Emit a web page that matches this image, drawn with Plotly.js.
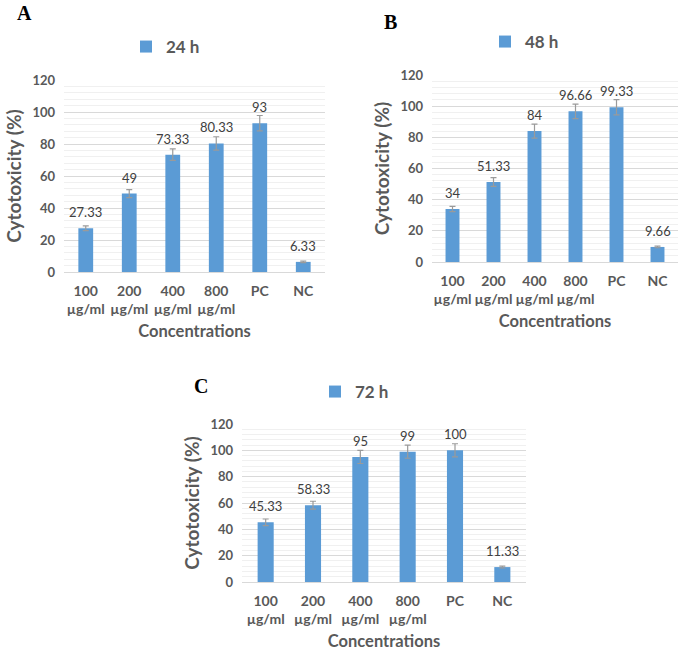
<!DOCTYPE html>
<html>
<head>
<meta charset="utf-8">
<script src="https://cdn.plot.ly/plotly-3.0.1.min.js"></script>
<style>html,body{margin:0;padding:0;background:#fff;}#chart{width:685px;height:656px;}</style>
</head>
<body>
<div id="chart"></div>
<script>
// ---- data ----
const categories = ['100 µg/ml', '200 µg/ml', '400 µg/ml', '800 µg/ml', 'PC', 'NC'];
const tickLabels = ['100<br>µg/ml', '200<br>µg/ml', '400<br>µg/ml', '800<br>µg/ml', 'PC', 'NC'];
const seriesNames = ['24 h', '48 h', '72 h'];
const panelLetters = ['A', 'B', 'C'];
const values24 = [27.33, 49, 73.33, 80.33, 93, 6.33];
const errors24 = [1.5, 2.5, 3.6, 4.2, 4.8, 0.5];
const values48 = [34, 51.33, 84, 96.66, 99.33, 9.66];
const errors48 = [1.7, 2.8, 4.5, 4.7, 4.9, 0.5];
const values72 = [45.33, 58.33, 95, 99, 100, 11.33];
const errors72 = [2.5, 3, 5, 5, 5, 0.7];
const yTitle = 'Cytotoxicity (%)';
const xTitle = 'Concentrations';

// ---- layout helpers ----
const W = 685, H = 656;
const px = v => v / W;
const py = v => 1 - v / H;

const barColor = '#5b9bd5';
const textGray = '#595959';
const FONT = 'Lato, "Open Sans", sans-serif';

const panels = [
  {vals: values24, errs: errors24, x0: 64, x1: 325, yTop: 80, yBot: 272,
   legX: 126, legY: 47, letX: 15, letY: 13},
  {vals: values48, errs: errors48, x0: 432, x1: 678, yTop: 75, yBot: 262,
   legX: 485, legY: 42, letX: 382, letY: 22},
  {vals: values72, errs: errors72, x0: 242, x1: 526, yTop: 424, yBot: 582,
   legX: 315, legY: 392, letX: 192, letY: 386}
];

const traces = [];
const layout = {
  width: W, height: H,
  margin: {l: 0, r: 0, t: 0, b: 0},
  paper_bgcolor: '#ffffff', plot_bgcolor: '#ffffff',
  font: {family: FONT, color: textGray},
  bargap: 0.66,
  showlegend: true,
  annotations: []
};

panels.forEach((p, i) => {
  const n = i === 0 ? '' : String(i + 1);
  const xa = 'x' + n, ya = 'y' + n;
  const legName = 'legend' + n;
  traces.push({
    type: 'bar', x: categories, y: p.vals,
    name: seriesNames[i], xaxis: xa, yaxis: ya, legend: legName,
    showlegend: true,
    marker: {color: barColor},
    error_y: {type: 'data', array: p.errs, visible: true, color: '#9a9a9a', thickness: 1.2, width: 3},
    hoverinfo: 'x+y'
  });
  layout['xaxis' + n] = {
    domain: [px(p.x0), px(p.x1)], anchor: ya,
    type: 'category', tickvals: categories, ticktext: tickLabels,
    showline: true, linecolor: '#d9d9d9', linewidth: 1, ticks: '',
    showgrid: false, zeroline: false, ticklabelstandoff: 6,
    tickfont: {family: FONT, size: 14, color: textGray, weight: 'bold'},
    title: {text: '<b>' + xTitle + '</b>', font: {family: FONT, size: 16.5, color: textGray}, standoff: 9}
  };
  layout['yaxis' + n] = {
    domain: [py(p.yBot), py(p.yTop)], anchor: xa,
    range: [0, 120], dtick: 20, tick0: 0,
    showgrid: true, gridcolor: '#d9d9d9', gridwidth: 1,
    minor: {dtick: 4, showgrid: true, gridcolor: '#f0f0f0', gridwidth: 1},
    zeroline: false, showline: false, ticks: '', ticklabelstandoff: 8,
    tickfont: {family: FONT, size: 13, color: textGray, weight: 'bold'},
    title: {text: '<b>' + yTitle + '</b>', font: {family: FONT, size: 19, color: textGray}, standoff: 5}
  };
  layout[legName] = {
    x: px(p.legX), y: py(p.legY), xanchor: 'left', yanchor: 'middle',
    xref: 'paper', yref: 'paper', orientation: 'h',
    bgcolor: 'rgba(0,0,0,0)',
    font: {family: FONT, size: 17, color: textGray, weight: 'bold'}
  };
  // data labels
  categories.forEach((c, k) => {
    layout.annotations.push({
      xref: xa, yref: ya, x: c, y: p.vals[k], text: String(p.vals[k]),
      showarrow: false, yshift: 16,
      font: {family: FONT, size: 13, color: '#404040'}
    });
  });
  // panel letter
  layout.annotations.push({
    xref: 'paper', yref: 'paper', x: px(p.letX), y: py(p.letY),
    xanchor: 'left', yanchor: 'middle', showarrow: false,
    text: '<b>' + panelLetters[i] + '</b>',
    font: {family: '"Liberation Serif", "Times New Roman", serif', size: 20, color: '#000000'}
  });
});

Plotly.newPlot('chart', traces, layout, {displayModeBar: false, staticPlot: true});
</script>
</body>
</html>
